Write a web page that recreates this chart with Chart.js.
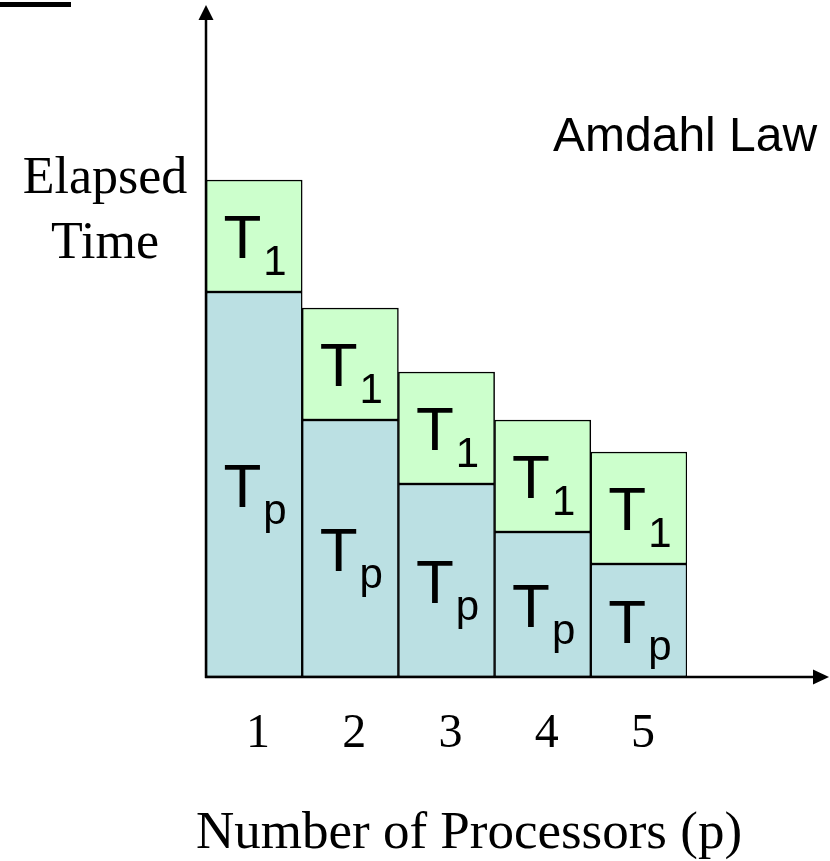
<!DOCTYPE html>
<html>
<head>
<meta charset="utf-8">
<script src="https://cdn.jsdelivr.net/npm/chart.js@4/dist/chart.umd.min.js"></script>
<style>
  html, body { margin: 0; padding: 0; background: #ffffff; }
  #wrap { width: 830px; height: 861px; }
</style>
</head>
<body>
<div id="wrap"><canvas id="c" width="830" height="861"></canvas></div>
<script>
// Processor counts along the x axis
const processors = ['1', '2', '3', '4', '5'];
// Parallel part of the run time (Tp) for each processor count
const parallelTime = [3.85, 2.57, 1.93, 1.45, 1.13];
// Serial part of the run time (T1), unchanged by the processor count
const serialTime = [1.12, 1.12, 1.12, 1.12, 1.12];

const serifFont = '"Liberation Serif", "Times New Roman", serif';
const sansFont = '"Liberation Sans", Arial, sans-serif';

// Axes with arrowheads, texts and the T labels inside each block
const decorations = {
  id: 'decorations',
  afterDatasetsDraw(chart) {
    const ctx = chart.ctx;
    const area = chart.chartArea;
    const xs = chart.scales.x;

    // "T" with a subscript, centred in a block
    function blockLabel(el, sub) {
      const cx = el.x;
      const cy = (el.y + el.base) / 2;
      ctx.save();
      ctx.fillStyle = '#000';
      ctx.textBaseline = 'alphabetic';
      ctx.textAlign = 'left';
      ctx.font = '62px ' + sansFont;
      const wT = ctx.measureText('T').width;
      ctx.font = '42px ' + sansFont;
      const wS = ctx.measureText(sub).width;
      const start = cx - (wT + wS) / 2;
      const baseT = cy + 22;
      ctx.font = '62px ' + sansFont;
      ctx.fillText('T', start, baseT);
      ctx.font = '42px ' + sansFont;
      ctx.fillText(sub, start + wT + 2, baseT + 17);
      ctx.restore();
    }
    chart.getDatasetMeta(0).data.forEach(el => blockLabel(el, 'p'));
    chart.getDatasetMeta(1).data.forEach(el => blockLabel(el, '1'));

    ctx.save();
    ctx.strokeStyle = '#000';
    ctx.fillStyle = '#000';
    ctx.lineWidth = 2.5;
    const x0 = area.left, y0 = area.bottom;
    // y axis
    ctx.beginPath();
    ctx.moveTo(x0, y0 + 1);
    ctx.lineTo(x0, 18);
    ctx.stroke();
    ctx.beginPath();
    ctx.moveTo(x0, 5);
    ctx.lineTo(x0 - 7.5, 20);
    ctx.lineTo(x0 + 7.5, 20);
    ctx.closePath();
    ctx.fill();
    // x axis
    ctx.beginPath();
    ctx.moveTo(x0 - 1, y0);
    ctx.lineTo(815, y0);
    ctx.stroke();
    ctx.beginPath();
    ctx.moveTo(829, y0);
    ctx.lineTo(813, y0 - 7.5);
    ctx.lineTo(813, y0 + 7.5);
    ctx.closePath();
    ctx.fill();

    // short rule in the top-left corner
    ctx.fillRect(0, 2, 71, 5);

    // x tick labels
    ctx.font = '48px ' + serifFont;
    ctx.textAlign = 'center';
    ctx.textBaseline = 'alphabetic';
    processors.forEach((p, i) => {
      ctx.fillText(p, xs.getPixelForValue(i) + 4, 747);
    });

    // axis titles
    ctx.font = '52px ' + serifFont;
    ctx.fillText('Elapsed', 105, 193);
    ctx.fillText('Time', 105, 258);
    ctx.font = '53px ' + serifFont;
    ctx.fillText('Number of Processors (p)', 469, 848);

    // chart title
    ctx.font = '48px ' + sansFont;
    ctx.textAlign = 'left';
    ctx.fillText('Amdahl Law', 553, 151);
    ctx.restore();
  }
};

new Chart(document.getElementById('c'), {
  type: 'bar',
  data: {
    labels: processors,
    datasets: [
      {
        label: 'Tp',
        data: parallelTime,
        backgroundColor: '#bbe0e3',
        borderColor: '#000000',
        borderWidth: 1.5,
        borderSkipped: false,
        categoryPercentage: 1,
        barPercentage: 1
      },
      {
        label: 'T1',
        data: serialTime,
        backgroundColor: '#ccffcc',
        borderColor: '#000000',
        borderWidth: 1.5,
        borderSkipped: false,
        categoryPercentage: 1,
        barPercentage: 1
      }
    ]
  },
  options: {
    responsive: false,
    animation: false,
    devicePixelRatio: 1,
    layout: { padding: { left: 206, right: 143, top: 77, bottom: 184 } },
    plugins: { legend: { display: false }, tooltip: { enabled: false }, title: { display: false } },
    scales: {
      x: { stacked: true, display: false },
      y: { stacked: true, display: false, min: 0, max: 6 }
    }
  },
  plugins: [decorations]
});
</script>
</body>
</html>
